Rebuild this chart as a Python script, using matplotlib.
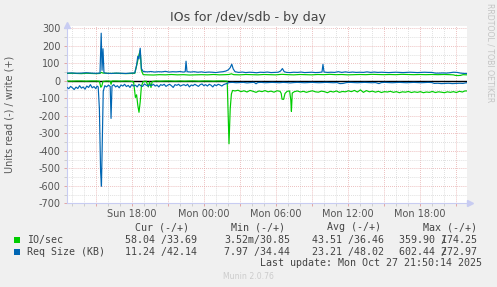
import numpy as np
import matplotlib
matplotlib.use("Agg")
import matplotlib.pyplot as plt
from matplotlib.ticker import FixedLocator

plt.rcParams['axes.unicode_minus'] = False
plt.rcParams['font.family'] = ['DejaVu Sans']

# ---------------- data (hours since Sun 00:00) ----------------
# Req Size (KB) write (+)
bw_h = [12.6, 13.0, 13.4, 13.8, 14.2, 14.6, 15.0, 15.35, 15.45, 15.52, 15.6, 15.68, 15.9, 16.3, 16.7, 17.1,
        17.5, 17.9, 18.25, 18.4, 18.5, 18.6, 18.7, 18.8, 18.95, 19.3, 19.6, 19.9, 20.2, 20.5, 20.8, 21.1,
        21.4, 21.7, 22.0, 22.3, 22.45, 22.52, 22.6, 22.9, 23.2, 23.5, 23.8, 24.1, 24.4, 24.7, 25.0, 25.3,
        25.6, 25.85, 26.05, 26.2, 26.33, 26.45, 26.6, 26.9, 27.2, 27.5, 27.8, 28.1, 28.4, 28.7, 29.0, 29.3,
        29.6, 29.9, 30.2, 30.4, 30.55, 30.7, 30.9, 31.2, 31.5, 31.8, 32.1, 32.4, 32.7, 33.0, 33.3, 33.6,
        33.85, 33.93, 34.02, 34.3, 34.6, 34.9, 35.2, 35.5, 35.8, 36.1, 36.4, 36.7, 37.0, 37.3, 37.6, 37.9,
        38.2, 38.5, 38.8, 39.1, 39.4, 39.7, 40.0, 40.3, 40.6, 40.9, 41.2, 41.5, 41.8, 42.1, 42.4, 42.7,
        43.0, 43.3, 43.6, 43.9, 44.2, 44.5, 44.8, 45.1, 45.4, 45.7, 45.93]
bw_v = [44, 45, 43, 44, 46, 44, 43, 44, 272, 60, 183, 46, 43, 42, 44, 43,
        42, 44, 45, 90, 140, 125, 186, 70, 53, 51, 53, 50, 52, 51, 54, 50,
        52, 51, 53, 50, 52, 112, 52, 50, 52, 49, 51, 48, 50, 49, 47, 50,
        52, 56, 63, 75, 95, 68, 52, 48, 50, 47, 49, 48, 46, 49, 48, 50,
        47, 48, 49, 56, 70, 52, 48, 47, 49, 48, 50, 47, 48, 49, 47, 48,
        50, 94, 50, 48, 49, 48, 52, 48, 51, 48, 50, 48, 49, 48, 51, 48,
        50, 48, 49, 48, 47, 48, 49, 48, 47, 48, 49, 48, 47, 48, 49, 48,
        48, 44, 44, 45, 44, 46, 49, 48, 44, 42, 42]

# IO/sec write (+)
gw_h = [12.6, 13.0, 13.4, 13.8, 14.2, 14.6, 15.0, 15.35, 15.45, 15.6, 15.9, 16.3, 16.7, 17.1, 17.5, 17.9,
        18.25, 18.45, 18.6, 18.7, 18.8, 18.95, 19.3, 19.8, 20.3, 20.8, 21.3, 21.8, 22.3, 22.8, 23.3, 23.8,
        24.3, 24.8, 25.3, 25.8, 26.1, 26.3, 26.5, 27.0, 27.5, 28.0, 28.5, 29.0, 29.5, 30.0, 30.5, 31.0,
        31.5, 32.0, 32.5, 33.0, 33.5, 34.0, 34.5, 35.0, 35.5, 36.0, 36.5, 37.0, 37.5, 38.0, 38.5, 39.0,
        39.5, 40.0, 40.5, 41.0, 41.5, 42.0, 42.5, 43.0, 43.5, 44.0, 44.5, 44.8, 44.95, 45.2, 45.4, 45.6, 45.93]
gw_v = [42, 43, 42, 41, 43, 42, 41, 42, 48, 44, 43, 42, 43, 42, 41, 42,
        43, 100, 150, 174, 60, 35, 34, 33, 35, 34, 36, 34, 35, 33, 34, 35,
        34, 36, 34, 35, 36, 40, 35, 34, 36, 35, 34, 36, 35, 34, 37, 35,
        34, 36, 35, 34, 36, 35, 37, 35, 36, 34, 35, 36, 35, 37, 36, 35,
        36, 35, 37, 36, 35, 36, 35, 36, 35, 36, 35, 34, 31, 30, 31, 35, 34]

# IO/sec read (-)
gr_h = [12.6, 13.0, 13.4, 13.8, 14.2, 14.6, 15.0, 15.3, 15.42, 15.5, 15.6, 15.9, 16.2, 16.27, 16.35, 16.7,
        17.1, 17.5, 17.9, 18.15, 18.3, 18.4, 18.5, 18.6, 18.7, 18.8, 18.95, 19.2, 19.38, 19.48, 19.6, 19.7,
        20.0, 20.4, 20.8, 21.2, 21.6, 22.0, 22.4, 22.8, 23.2, 23.6, 24.0, 24.4, 24.8, 25.2, 25.6, 25.95,
        26.03, 26.1, 26.2, 26.3, 26.4, 26.6, 26.85, 27.1, 27.35, 27.6, 27.85, 28.1, 28.35, 28.6, 28.85, 29.1,
        29.35, 29.6, 29.85, 30.1, 30.35, 30.45, 30.52, 30.65, 30.77, 30.95, 31.15, 31.25, 31.3, 31.37, 31.55, 31.8,
        32.05, 32.3, 32.55, 32.8, 33.05, 33.3, 33.55, 33.8, 34.05, 34.3, 34.55, 34.8, 35.05, 35.3, 35.55, 35.8,
        36.05, 36.3, 36.55, 36.8, 37.05, 37.3, 37.55, 37.8, 38.05, 38.3, 38.55, 38.8, 39.05, 39.3, 39.55, 39.8,
        40.05, 40.3, 40.55, 40.8, 41.05, 41.3, 41.55, 41.8, 42.05, 42.3, 42.55, 42.8, 43.05, 43.3, 43.55, 43.8,
        44.05, 44.3, 44.55, 44.8, 45.05, 45.3, 45.55, 45.75, 45.93]
gr_v = [1, 2, 1, 1, 2, 1, 1, 2, 37, 30, 3, 1, 2, 20, 1, 1,
        2, 1, 2, 6, 95, 80, 140, 180, 120, 30, 4, 2, 35, 6, 38, 4,
        1, 2, 1, 1, 2, 1, 2, 1, 1, 2, 1, 1, 2, 1, 1, 2,
        200, 360, 160, 75, 55, 58, 54, 62, 57, 64, 55, 60, 66, 58, 62, 56,
        63, 59, 65, 57, 60, 72, 105, 106, 72, 60, 58, 110, 175, 70, 62, 58,
        64, 60, 66, 61, 57, 63, 65, 59, 62, 68, 60, 64, 58, 66, 61, 63,
        57, 62, 55, 64, 52, 66, 56, 63, 59, 65, 60, 67, 62, 64, 60, 66,
        62, 68, 63, 65, 61, 67, 63, 66, 62, 68, 64, 66, 61, 67, 63, 65,
        68, 63, 66, 62, 67, 60, 64, 58, 58]

# Req Size (KB) read (-)
br_h = [12.6, 12.75, 12.9, 13.05, 13.2, 13.35, 13.5, 13.65, 13.8, 13.95, 14.1, 14.25, 14.4, 14.55, 14.7, 14.85,
        15.0, 15.1, 15.2, 15.3, 15.4, 15.47, 15.55, 15.62, 15.75, 15.9, 16.05, 16.2, 16.27, 16.35, 16.5, 16.65,
        16.8, 16.95, 17.1, 17.25, 17.4, 17.55, 17.7, 17.85, 18.0, 18.15, 18.3, 18.45, 18.6, 18.75, 18.9, 19.05,
        19.2, 19.35, 19.5, 19.65, 19.8, 19.95, 20.1, 20.25, 20.4, 20.55, 20.7, 20.85, 21.0, 21.15, 21.3, 21.45,
        21.6, 21.75, 21.9, 22.05, 22.2, 22.35, 22.5, 22.65, 22.8, 22.95, 23.1, 23.25, 23.4, 23.55, 23.7, 23.85,
        24.0, 24.15, 24.3, 24.45, 24.6, 24.75, 24.9, 25.05, 25.2, 25.35, 25.5, 25.65, 25.8, 25.95, 26.1, 26.4,
        26.7, 27.0, 27.3, 27.6, 27.9, 28.2, 28.35, 28.5, 28.8, 29.1, 29.4, 29.7, 30.0, 30.3, 30.6, 30.9,
        31.2, 31.5, 31.8, 32.1, 32.4, 32.7, 33.0, 33.3, 33.6, 33.9, 34.2, 34.5, 34.8, 35.1, 35.35, 35.6,
        35.9, 36.2, 36.5, 36.8, 37.1, 37.4, 37.7, 38.0, 38.3, 38.6, 38.8, 39.1, 39.4, 39.7, 40.0, 40.3,
        40.6, 40.9, 41.2, 41.5, 41.8, 42.1, 42.4, 42.7, 43.0, 43.2, 43.5, 43.8, 44.1, 44.4, 44.7, 45.0,
        45.3, 45.6, 45.8, 45.93]
br_v = [38, 45, 32, 40, 50, 36, 44, 28, 42, 35, 48, 30, 38, 22, 40, 33,
        45, 30, 35, 160, 520, 602, 320, 60, 28, 35, 25, 32, 215, 30, 22, 35,
        28, 40, 24, 30, 20, 33, 26, 38, 22, 30, 25, 35, 20, 28, 32, 18,
        25, 30, 22, 27, 20, 30, 24, 35, 22, 26, 20, 32, 25, 20, 28, 38,
        22, 26, 20, 30, 25, 22, 28, 20, 35, 24, 28, 20, 26, 32, 22, 18,
        28, 22, 30, 20, 25, 35, 22, 28, 20, 24, 30, 22, 18, 15, 10, 9,
        11, 10, 9, 12, 10, 9, 17, 10, 9, 11, 10, 9, 10, 11, 9, 10,
        12, 10, 9, 10, 11, 10, 9, 10, 11, 10, 9, 10, 11, 10, 16, 15,
        10, 9, 10, 11, 10, 9, 10, 11, 10, 16, 10, 9, 10, 11, 10, 9,
        10, 11, 10, 9, 10, 11, 10, 9, 10, 15, 14, 16, 15, 14, 16, 15,
        14, 15, 12, 11]

tick_hours = [18, 24, 30, 36, 42]
tick_labels = ["Sun 18:00", "Mon 00:00", "Mon 06:00", "Mon 12:00", "Mon 18:00"]
x_start, x_end = 12.6, 45.933

legend_names = ["IO/sec", "Req Size (KB)"]
legend_colors = ["#00CC00", "#0066B3"]
cur_vals = ["58.04 /33.69", "11.24 /42.14"]
min_vals = ["3.52m/30.85", "7.97 /34.44"]
avg_vals = ["43.51 /36.46", "23.21 /48.02"]
max_vals = [("359.90 174.25", "       /"), ("602.44 272.97", "       /")]

# ---------------- figure ----------------
W, H = 497, 287
fig = plt.figure(figsize=(W / 100, H / 100), dpi=100, facecolor="#F0F0F0")
ax_bottom_px, ax_top_px = 203.3, 26.2
ax = fig.add_axes([67 / W, 1 - ax_bottom_px / H, 400 / W, (ax_bottom_px - ax_top_px) / H])
ax.set_facecolor("white")

green, blue = legend_colors
ax.axhline(0, color="black", lw=1.0, zorder=2)
ax.plot(gr_h, -np.array(gr_v), color=green, lw=0.85, zorder=3)
ax.plot(gw_h, gw_v, color=green, lw=0.85, zorder=3)
ax.plot(br_h, -np.array(br_v), color=blue, lw=0.85, zorder=4)
ax.plot(bw_h, bw_v, color=blue, lw=0.85, zorder=4)

ax.set_xlim(x_start, x_end)
ax.set_ylim(-700, 312)

ax.yaxis.set_major_locator(FixedLocator(list(range(-700, 301, 100))))
ax.yaxis.set_minor_locator(FixedLocator([v + 50 for v in range(-700, 300, 100)]))
major_x = list(range(15, 46, 3))
ax.xaxis.set_major_locator(FixedLocator(major_x))
ax.set_xticklabels([tick_labels[tick_hours.index(h)] if h in tick_hours else "" for h in major_x])
ax.xaxis.set_minor_locator(FixedLocator([h for h in range(13, 46) if h % 3 != 0]))

dots = (0, (0.7, 1.4))
ax.grid(which="major", color="#E5A5A5", lw=0.7, linestyle=dots, zorder=1)
ax.grid(which="minor", color="#D2D2D2", lw=0.7, linestyle=dots, zorder=1)
ax.set_axisbelow(True)

for s in ["top", "right"]:
    ax.spines[s].set_visible(False)
for s in ["left", "bottom"]:
    ax.spines[s].set_color("#C8CCF2")
    ax.spines[s].set_linewidth(0.8)

ax.tick_params(axis="both", which="both", labelsize=7, labelcolor="#555555", length=2, width=0.6)
ax.tick_params(axis="x", which="major", color="#E09A9A", pad=1.8)
ax.tick_params(axis="x", which="minor", color="#C8C8C8")
ax.tick_params(axis="y", which="major", color="#E09A9A", pad=2.5)
ax.tick_params(axis="y", which="minor", color="#C8C8C8")

# arrows at axis ends
ax.plot([0], [1.005], marker="^", color="#C8CCF2", markersize=4, transform=ax.transAxes, clip_on=False)
ax.plot([1.008], [0], marker=">", color="#C8CCF2", markersize=4, transform=ax.transAxes, clip_on=False)

ax.set_ylabel("Units read (-) / write (+)", fontsize=7, color="#555555")
ax.yaxis.set_label_coords((15 - 67) / 400, 0.5)

fig.text(248.5 / W, 1 - 18 / H, "IOs for /dev/sdb - by day", ha="center", va="center",
         fontsize=9.1, color="#444444")
fig.text(490 / W, 1 - 53 / H, "RRDTOOL / TOBI OETIKER", rotation=270, ha="center", va="center",
         fontsize=5.6, color="#C4C4C4")

# ---------------- legend ----------------
mono = dict(family="DejaVu Sans Mono", fontsize=7.2, color="#444444", va="center", ha="left")
row_y = [239.7, 251.7]
fig.text(135 / W, 1 - 227.3 / H, "Cur (-/+)", **mono)
fig.text(230.7 / W, 1 - 227.3 / H, "Min (-/+)", **mono)
fig.text(327.3 / W, 1 - 227.3 / H, "Avg (-/+)", **mono)
fig.text(422.7 / W, 1 - 227.3 / H, "Max (-/+)", **mono)
for i in range(2):
    y = 1 - row_y[i] / H
    fig.patches.append(plt.Rectangle((14 / W, y - 3 / H), 6 / W, 6 / H, transform=fig.transFigure,
                                     facecolor=legend_colors[i], edgecolor="none"))
    fig.text(26.7 / W, y, legend_names[i], **mono)
    fig.text(125 / W, y, cur_vals[i], **mono)
    fig.text(224 / W, y, min_vals[i], **mono)
    fig.text(311.7 / W, y, avg_vals[i], **mono)
    fig.text(399 / W, y, max_vals[i][0], **mono)
    fig.text(399 / W, y, max_vals[i][1], **mono)
fig.text(482.3 / W, 1 - 263.3 / H, "Last update: Mon Oct 27 21:50:14 2025",
         **{**mono, "ha": "right"})
fig.text(248 / W, 1 - 276.5 / H, "Munin 2.0.76", ha="center", va="center", fontsize=5.6, color="#CCCCCC")

fig.savefig("out.png", dpi=100, facecolor=fig.get_facecolor())
